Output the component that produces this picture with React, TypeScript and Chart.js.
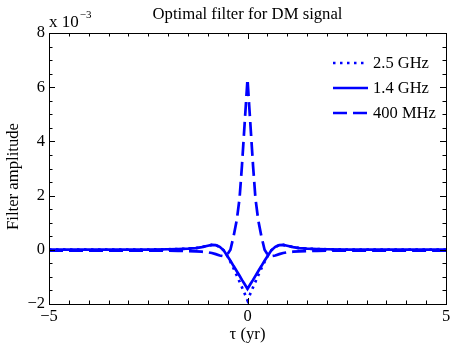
import React, { useEffect, useRef } from "react";
import { Chart, registerables } from "chart.js";

Chart.register(...registerables);

const tau = [
  -5, -3, -2.5, -2, -1.75, -1.5, -1.3, -1.15, -1, -0.9, -0.8, -0.7, -0.6, -0.52, -0.43, -0.35, -0.27, -0.2, -0.14, -0.07,
  0,
  0.07, 0.14, 0.2, 0.27, 0.35, 0.43, 0.52, 0.6, 0.7, 0.8, 0.9, 1, 1.15, 1.3, 1.5, 1.75, 2, 2.5, 3, 5,
];

const ghz25 = [
  0.01, 0.01, 0.01, 0.02, 0.03, 0.04, 0.06, 0.1, 0.15, 0.18, 0.17, 0.11, -0.02, -0.2, -0.45, -0.69, -0.95, -1.18, -1.38, -1.62,
  -1.87,
  -1.62, -1.38, -1.18, -0.95, -0.69, -0.45, -0.2, -0.02, 0.11, 0.17, 0.18, 0.15, 0.1, 0.06, 0.04, 0.03, 0.02, 0.01, 0.01, 0.01,
];

const ghz14 = [
  0.01, 0.01, 0.01, 0.02, 0.03, 0.04, 0.06, 0.1, 0.15, 0.18, 0.17, 0.11, -0.02, -0.2, -0.4, -0.6, -0.79, -0.96, -1.11, -1.27,
  -1.44,
  -1.27, -1.11, -0.96, -0.79, -0.6, -0.4, -0.2, -0.02, 0.11, 0.17, 0.18, 0.15, 0.1, 0.06, 0.04, 0.03, 0.02, 0.01, 0.01, 0.01,
];

const mhz400 = [
  -0.03, -0.03, -0.03, -0.03, -0.04, -0.05, -0.06, -0.07, -0.09, -0.12, -0.16, -0.21, -0.24, -0.2, 0, 0.5, 1.1, 1.9, 3.1, 4.7,
  6.3,
  4.7, 3.1, 1.9, 1.1, 0.5, 0, -0.2, -0.24, -0.21, -0.16, -0.12, -0.09, -0.07, -0.06, -0.05, -0.04, -0.03, -0.03, -0.03, -0.03,
];

const seriesLabels = ["2.5 GHz", "1.4 GHz", "400 MHz"];
const xTickValues = [-5, 0, 5];
const yTickValues = [-2, 0, 2, 4, 6, 8];
const titleText = "Optimal filter for DM signal";
const xLabel = "τ (yr)";
const yLabel = "Filter amplitude";

const FONT = "'Liberation Serif', 'DejaVu Serif', serif";
const BLUE = "#0000ff";
const dashes: number[][] = [[2.5, 4.5], [], [14, 6]];

const decorPlugin = {
  id: "decor",
  afterDatasetsDraw(chart: any) {
    const { ctx, chartArea: a, scales } = chart;
    const xs = scales.x;
    const ys = scales.y;
    ctx.save();
    ctx.strokeStyle = "#000";
    ctx.lineWidth = 1;
    // frame
    ctx.strokeRect(Math.round(a.left) + 0.5, Math.round(a.top) + 0.5, Math.round(a.right - a.left), Math.round(a.bottom - a.top));
    // ticks
    ctx.beginPath();
    for (let v = -5; v <= 5.001; v += 0.5) {
      const px = Math.round(xs.getPixelForValue(v)) + 0.5;
      const len = Math.abs(v % 5) < 1e-6 ? 6 : 3.5;
      ctx.moveTo(px, a.bottom);
      ctx.lineTo(px, a.bottom - len);
      ctx.moveTo(px, a.top);
      ctx.lineTo(px, a.top + len);
    }
    for (let v = -2; v <= 8.001; v += 0.5) {
      const py = Math.round(ys.getPixelForValue(v)) + 0.5;
      const len = Math.abs(v % 2) < 1e-6 ? 6 : 3.5;
      ctx.moveTo(a.left, py);
      ctx.lineTo(a.left + len, py);
      ctx.moveTo(a.right, py);
      ctx.lineTo(a.right - len, py);
    }
    ctx.stroke();

    // title
    ctx.fillStyle = "#000";
    ctx.font = `16.7px ${FONT}`;
    ctx.textAlign = "center";
    ctx.textBaseline = "middle";
    ctx.fillText(titleText, (a.left + a.right) / 2, 15);

    // exponent
    ctx.textAlign = "left";
    ctx.textBaseline = "alphabetic";
    ctx.font = `17px ${FONT}`;
    ctx.fillText("x 10", a.left, 27);
    const w = ctx.measureText("x 10").width;
    ctx.font = `11px ${FONT}`;
    ctx.fillText("−3", a.left + w + 1, 18);

    // axis labels
    ctx.font = `16.7px ${FONT}`;
    ctx.textAlign = "center";
    ctx.textBaseline = "middle";
    ctx.fillText(xLabel, (a.left + a.right) / 2, 335);
    ctx.save();
    ctx.translate(14, (a.top + a.bottom) / 2 + 8);
    ctx.rotate(-Math.PI / 2);
    ctx.fillText(yLabel, 0, 0);
    ctx.restore();

    // legend
    const rows = [63, 88, 113];
    ctx.font = `16.5px ${FONT}`;
    ctx.textAlign = "left";
    rows.forEach((ry, i) => {
      ctx.save();
      ctx.strokeStyle = BLUE;
      ctx.lineWidth = 2.7;
      ctx.setLineDash(dashes[i]);
      ctx.beginPath();
      ctx.moveTo(333, ry);
      ctx.lineTo(368, ry);
      ctx.stroke();
      ctx.restore();
      ctx.fillStyle = "#000";
      ctx.fillText(seriesLabels[i], 373, ry + 1);
    });
    ctx.restore();
  },
};

export default function App() {
  const ref = useRef<HTMLCanvasElement | null>(null);
  useEffect(() => {
    document.body.style.margin = "0";
    const series = [ghz25, ghz14, mhz400];
    const chart = new Chart(ref.current as HTMLCanvasElement, {
      type: "line",
      data: {
        datasets: series.map((vals, i) => ({
          label: seriesLabels[i],
          data: tau.map((t, j) => ({ x: t, y: vals[j] })),
          borderColor: BLUE,
          borderWidth: 2.7,
          borderDash: dashes[i],
          pointRadius: 0,
          tension: 0,
          fill: false,
          order: 3 - i,
        })),
      },
      options: {
        animation: false,
        responsive: false,
        devicePixelRatio: 1,
        layout: { padding: { left: 0, right: 9, top: 33, bottom: 0 } },
        plugins: { legend: { display: false }, title: { display: false }, tooltip: { enabled: false } },
        scales: {
          x: {
            type: "linear",
            min: -5,
            max: 5,
            afterFit: (s: any) => { s.height = 42; },
            afterBuildTicks: (s: any) => { s.ticks = xTickValues.map((v) => ({ value: v })); },
            grid: { display: false, drawTicks: false },
            border: { display: false },
            ticks: {
              padding: 3,
              color: "#000",
              font: { family: FONT, size: 16.5 },
              callback: (v: any) => (v < 0 ? "−" + Math.abs(v) : String(v)),
            },
          },
          y: {
            type: "linear",
            min: -2,
            max: 8,
            afterFit: (s: any) => { s.width = 49; },
            afterBuildTicks: (s: any) => { s.ticks = yTickValues.map((v) => ({ value: v })); },
            grid: { display: false, drawTicks: false },
            border: { display: false },
            ticks: {
              padding: 4,
              color: "#000",
              font: { family: FONT, size: 16.5 },
              callback: (v: any) => (v < 0 ? "−" + Math.abs(v) : String(v)),
            },
          },
        },
      },
      plugins: [decorPlugin],
    });
    return () => chart.destroy();
  }, []);
  return (
    <div style={{ width: 455, height: 346, position: "relative" }}>
      <canvas ref={ref} width={455} height={346} style={{ display: "block" }} />
    </div>
  );
}
